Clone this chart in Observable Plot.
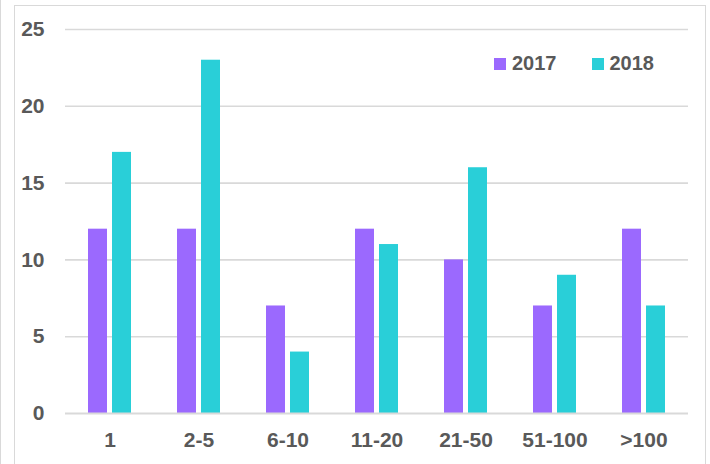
<!DOCTYPE html>
<html>
<head>
<meta charset="utf-8">
<script src="https://cdn.jsdelivr.net/npm/d3@7"></script>
<script src="https://cdn.jsdelivr.net/npm/@observablehq/plot@0.6"></script>
<style>
  html, body { margin: 0; padding: 0; background: #fff; }
  body { width: 710px; height: 464px; position: relative; overflow: hidden; font-family: "Liberation Sans", Arial, sans-serif; }
  #edge { position: absolute; left: 0; top: 0; width: 0; height: 464px; border-left: 1px solid #d9d9d9; }
  #frame { position: absolute; left: 14px; top: 5px; width: 690px; height: 470px; border: 1px solid #d9d9d9; border-bottom: none; }
  #chart { position: absolute; left: 0; top: 0; }
  #legend { position: absolute; left: 494px; top: 52px; display: flex; align-items: center; font: bold 20px "Liberation Sans", Arial, sans-serif; color: #595959; }
  .item { display: flex; align-items: center; }
  .sw { width: 12px; height: 12px; display: inline-block; margin-right: 6px; }
</style>
</head>
<body>
<div id="edge"></div>
<div id="frame"></div>
<div id="chart"></div>
<div id="legend"></div>
<script>
const categories = ["1", "2-5", "6-10", "11-20", "21-50", "51-100", ">100"];
const years = ["2017", "2018"];
const values2017 = [12, 12, 7, 12, 10, 7, 12];
const values2018 = [17, 23, 4, 11, 16, 9, 7];
const yTicks = [0, 5, 10, 15, 20, 25];
const colors = ["#9b69fe", "#29cfd8"];

const data = [];
categories.forEach((c, i) => {
  data.push({category: c, year: years[0], value: values2017[i]});
  data.push({category: c, year: years[1], value: values2018[i]});
});

const textColor = "#595959";
const font = "bold 21px 'Liberation Sans', Arial, sans-serif";

const chart = Plot.plot({
  width: 710,
  height: 464,
  marginLeft: 64,
  marginRight: 21,
  marginTop: 29,
  marginBottom: 51,
  style: {font, color: textColor, background: "transparent"},
  fx: {domain: categories, padding: 0, axis: null},
  x: {domain: years, axis: null, paddingInner: 0.2, paddingOuter: 0.886},
  y: {domain: [0, 25], axis: null},
  color: {domain: years, range: colors},
  marks: [
    Plot.gridY(yTicks.slice(1), {stroke: "#d9d9d9", strokeOpacity: 1, strokeWidth: 1.6}),
    Plot.barY(data, {fx: "category", x: "year", y: "value", fill: "year"}),
    Plot.ruleY([0], {stroke: "#d9d9d9", strokeWidth: 2}),
    Plot.axisY(yTicks, {facetAnchor: "left", tickSize: 0, tickPadding: 21, label: null, fill: textColor, fontWeight: "bold", fontSize: 21}),
    Plot.axisFx({anchor: "bottom", tickSize: 0, tickPadding: 19, label: null, fill: textColor, fontWeight: "bold", fontSize: 21})
  ]
});
document.getElementById("chart").appendChild(chart);

const legend = document.getElementById("legend");
years.forEach((y, i) => {
  const item = document.createElement("span");
  item.className = "item";
  if (i > 0) item.style.marginLeft = "35px";
  const sw = document.createElement("span");
  sw.className = "sw";
  sw.style.background = colors[i];
  item.appendChild(sw);
  item.appendChild(document.createTextNode(y));
  legend.appendChild(item);
});
</script>
</body>
</html>
